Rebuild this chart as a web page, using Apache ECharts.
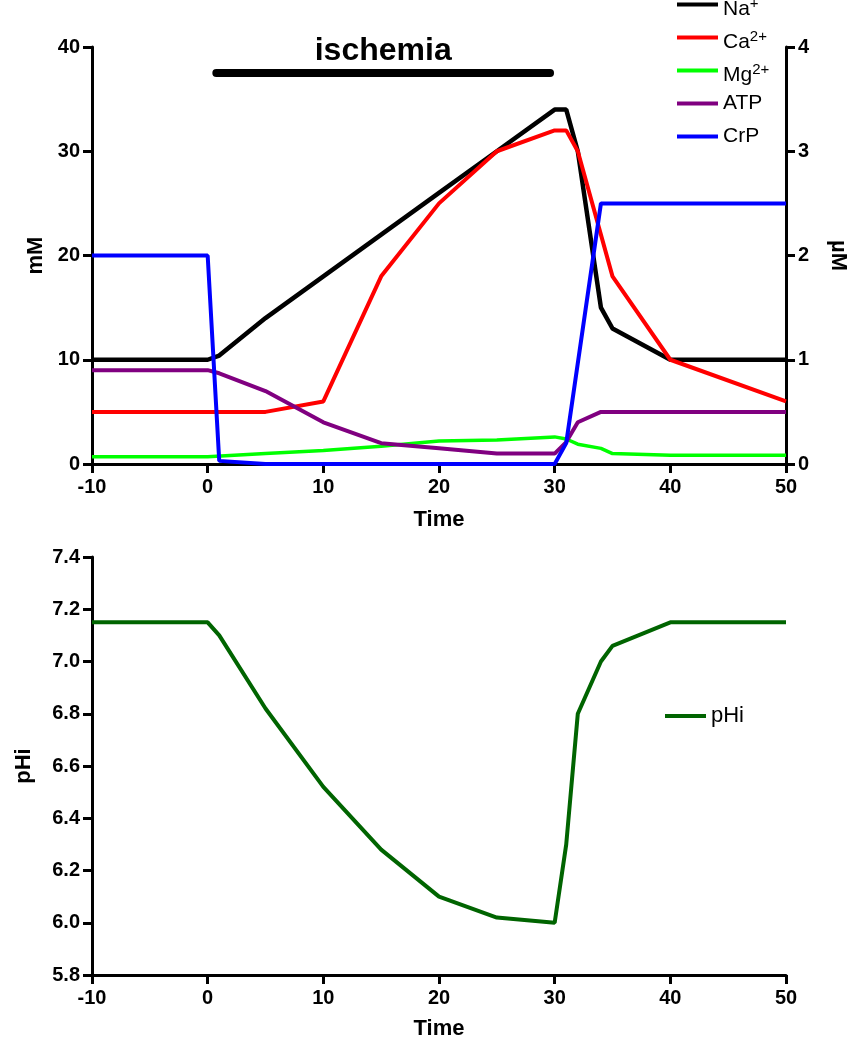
<!DOCTYPE html>
<html><head><meta charset="utf-8">
<script src="https://cdn.jsdelivr.net/npm/echarts@6/dist/echarts.min.js"></script>
<style>html,body{margin:0;padding:0;background:#fff}#c{width:851px;height:1050px}</style>
</head><body><div id="c"></div>
<script>
// Top panel (mM on left axis, µM on right axis)
const naT  = [-10, 0, 1, 5, 10, 15, 20, 25, 30, 31, 32, 34, 35, 40, 50];
const naV  = [10, 10, 10.4, 14, 18, 22, 26, 30, 34, 34, 30, 15, 13, 10, 10];
const caT  = [-10, 0, 5, 10, 15, 20, 25, 30, 31, 32, 35, 40, 50];
const caV  = [0.5, 0.5, 0.5, 0.6, 1.8, 2.5, 3.0, 3.2, 3.2, 3.0, 1.8, 1.0, 0.6]; // µM
const mgT  = [-10, 0, 5, 10, 15, 20, 25, 30, 31, 32, 34, 35, 40, 50];
const mgV  = [0.7, 0.7, 1.0, 1.3, 1.7, 2.2, 2.3, 2.6, 2.4, 1.9, 1.5, 1.0, 0.85, 0.85];
const atpT = [-10, 0, 1, 5, 10, 15, 20, 25, 30, 31, 32, 34, 50];
const atpV = [9, 9, 8.7, 7, 4, 2, 1.5, 1, 1, 2.1, 4, 5, 5];
const crpT = [-10, 0, 1, 5, 30, 31, 34, 50];
const crpV = [20, 20, 0.3, 0, 0, 2, 25, 25];
const ischemiaT = [0.75, 29.6];
const ischemiaLevel = 37.5;
// Bottom panel
const phT = [-10, 0, 1, 5, 10, 15, 20, 25, 30, 31, 32, 34, 35, 40, 50];
const phV = [7.15, 7.15, 7.1, 6.82, 6.52, 6.28, 6.1, 6.02, 6.0, 6.3, 6.8, 7.0, 7.06, 7.15, 7.15];

const seriesNames = ['Na+', 'Ca2+', 'Mg2+', 'ATP', 'CrP'];
const FONT = '"Liberation Sans", Arial, sans-serif';

const pairs = (t, v) => t.map((x, i) => [x, v[i]]);

const axisCommon = {
  axisLine: { show: true, onZero: false, lineStyle: { color: '#000', width: 3 } },
  axisTick: { show: true, inside: false, length: 9, lineStyle: { color: '#000', width: 3 } },
  axisLabel: { color: '#000', fontFamily: FONT, fontWeight: 'bold', fontSize: 20 },
  splitLine: { show: false },
  nameTextStyle: { color: '#000', fontFamily: FONT, fontWeight: 'bold', fontSize: 22 }
};
function ax(extra) {
  const o = JSON.parse(JSON.stringify(axisCommon));
  for (const k in extra) {
    if (typeof extra[k] === 'object' && o[k] && !Array.isArray(extra[k])) Object.assign(o[k], extra[k]);
    else o[k] = extra[k];
  }
  return o;
}

const legendFmt = n => {
  if (n === 'Na+') return '{b|Na}{s|+}';
  if (n === 'Ca2+') return '{b|Ca}{s|2+}';
  if (n === 'Mg2+') return '{b|Mg}{s|2+}';
  return '{c|' + n + '}';
};

const chart = echarts.init(document.getElementById('c'), null, { renderer: 'canvas' });
const lineS = (name, data, color, w, xi, yi) => ({
  name, type: 'line', data, xAxisIndex: xi, yAxisIndex: yi, symbol: 'none',
  lineStyle: { color, width: w }, itemStyle: { color }, animation: false
});

chart.setOption({
  backgroundColor: '#fff',
  animation: false,
  grid: [
    { left: 92, right: 65, top: 47, height: 417, outerBoundsMode: 'none', containLabel: false },
    { left: 92, right: 65, top: 557, height: 418, outerBoundsMode: 'none', containLabel: false }
  ],
  xAxis: [
    ax({ type: 'value', gridIndex: 0, min: -10, max: 50, interval: 10, name: 'Time', nameLocation: 'middle', nameGap: 45, axisLabel: { margin: 13 } }),
    ax({ type: 'value', gridIndex: 1, min: -10, max: 50, interval: 10, name: 'Time', nameLocation: 'middle', nameGap: 43, axisLabel: { margin: 13 } })
  ],
  yAxis: [
    ax({ type: 'value', gridIndex: 0, min: 0, max: 40, interval: 10, name: 'mM', nameLocation: 'middle', nameGap: 36, nameRotate: 90, axisLabel: { margin: 12 } }),
    ax({ type: 'value', gridIndex: 0, position: 'right', min: 0, max: 4, interval: 1, name: 'µM', nameLocation: 'middle', nameGap: 41, nameRotate: -90, axisLabel: { margin: 12 } }),
    ax({ type: 'value', gridIndex: 1, min: 5.8, max: 7.4, interval: 0.2, name: 'pHi', nameLocation: 'middle', nameGap: 57, nameRotate: 90, axisLabel: { margin: 12, formatter: v => v.toFixed(1) } })
  ],
  legend: [
    {
      data: seriesNames, orient: 'vertical', left: 677, top: -12, itemGap: 0, padding: 0,
      icon: 'rect', itemWidth: 41, itemHeight: 4,
      formatter: legendFmt,
      textStyle: { color: '#000', fontFamily: FONT, fontSize: 21, lineHeight: 33,
        rich: {
          b: { fontSize: 21, fontFamily: FONT, color: '#000', lineHeight: 33, verticalAlign: 'bottom', padding: [0, 0, 1, 0] },
          s: { fontSize: 15, fontFamily: FONT, color: '#000', lineHeight: 33, verticalAlign: 'top', padding: [8, 0, 0, 0] },
          c: { fontSize: 21, fontFamily: FONT, color: '#000', lineHeight: 33, verticalAlign: 'middle' }
        } },
      selectedMode: false
    },
    {
      data: ['pHi'], orient: 'vertical', left: 665, top: 705, padding: 0,
      icon: 'rect', itemWidth: 41, itemHeight: 4,
      textStyle: { color: '#000', fontFamily: FONT, fontSize: 22 },
      selectedMode: false
    }
  ],
  series: [
    {
      type: 'line', name: 'ischemia', data: pairs(ischemiaT, ischemiaT.map(() => ischemiaLevel)),
      xAxisIndex: 0, yAxisIndex: 0, symbol: 'none', silent: true,
      lineStyle: { color: '#000', width: 8, cap: 'round' },
      markPoint: {
        symbol: 'circle', symbolSize: 0,
        data: [{ coord: [(ischemiaT[0] + ischemiaT[1]) / 2, ischemiaLevel] }],
        label: { show: true, formatter: 'ischemia', position: 'top', distance: 6,
          color: '#000', fontFamily: FONT, fontWeight: 'bold', fontSize: 32 }
      }
    },
    lineS('Na+', pairs(naT, naV), '#000000', 4.5, 0, 0),
    lineS('Ca2+', pairs(caT, caV), '#ff0000', 4, 0, 1),
    lineS('Mg2+', pairs(mgT, mgV), '#00ff00', 3.5, 0, 0),
    lineS('ATP', pairs(atpT, atpV), '#800080', 4, 0, 0),
    lineS('CrP', pairs(crpT, crpV), '#0000ff', 4, 0, 0),
    lineS('pHi', pairs(phT, phV), '#006400', 4, 1, 2)
  ]
});
</script></body></html>
